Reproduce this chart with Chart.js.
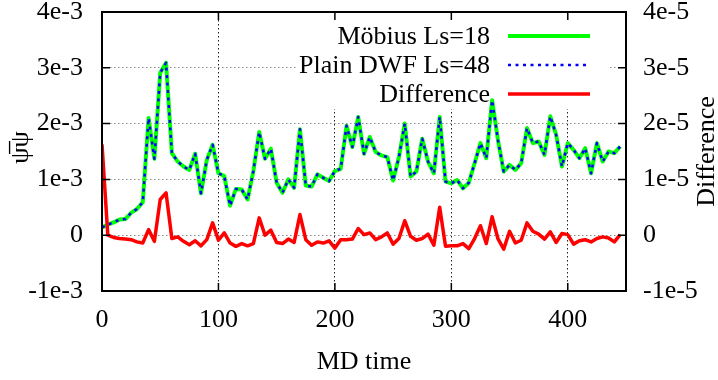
<!DOCTYPE html>
<html>
<head>
<meta charset="utf-8">
<script src="https://cdn.jsdelivr.net/npm/chart.js@4/dist/chart.umd.min.js"></script>
<style>
  html, body { margin: 0; padding: 0; background: #fff; }
  canvas { display: block; }
</style>
</head>
<body>
<canvas id="myChart" width="718" height="380"></canvas>
<script>
// MD time of each measurement
const mdTime = [
  0, 5, 10, 15, 20, 25, 30, 35, 40, 45, 50, 55, 60, 65, 70, 75, 80, 85, 90, 95,
  100, 105, 110, 115, 120, 125, 130, 135, 140, 145, 150, 155, 160, 165, 170, 175, 180, 185, 190, 195,
  200, 205, 210, 215, 220, 225, 230, 235, 240, 245, 250, 255, 260, 265, 270, 275, 280, 285, 290, 295,
  300, 305, 310, 315, 320, 325, 330, 335, 340, 345, 350, 355, 360, 365, 370, 375, 380, 385, 390, 395,
  400, 405, 410, 415, 420, 425, 430, 435, 440, 445
];

// psibar psi, units of 1e-3 (left axis)
const mobius = [
  0.14, 0.19, 0.23, 0.28, 0.29, 0.40, 0.47, 0.59, 2.10, 1.37, 2.91, 3.09, 1.47, 1.32, 1.23, 1.17, 1.46, 0.75, 1.35, 1.62,
  1.11, 1.06, 0.53, 0.83, 0.82, 0.64, 1.15, 1.85, 1.37, 1.55, 0.94, 0.76, 1.00, 0.85, 1.90, 0.89, 0.87, 1.09, 1.03, 0.97,
  1.15, 1.19, 1.96, 1.58, 2.12, 1.46, 1.76, 1.49, 1.43, 1.40, 0.98, 1.40, 2.00, 1.05, 1.14, 1.73, 1.32, 1.11, 2.12, 0.96,
  0.93, 0.99, 0.84, 0.94, 1.29, 1.65, 1.38, 2.42, 1.71, 1.14, 1.26, 1.17, 1.29, 1.92, 1.65, 1.68, 1.44, 2.13, 1.80, 1.23,
  1.65, 1.53, 1.38, 1.56, 1.11, 1.65, 1.32, 1.50, 1.47, 1.59
];
const plainDwf = [
  0.14, 0.19, 0.23, 0.28, 0.29, 0.40, 0.47, 0.59, 2.10, 1.37, 2.91, 3.09, 1.47, 1.32, 1.23, 1.17, 1.46, 0.75, 1.35, 1.62,
  1.11, 1.06, 0.53, 0.83, 0.82, 0.64, 1.15, 1.85, 1.37, 1.55, 0.94, 0.76, 1.00, 0.85, 1.90, 0.89, 0.87, 1.09, 1.03, 0.97,
  1.15, 1.19, 1.96, 1.58, 2.12, 1.46, 1.76, 1.49, 1.43, 1.40, 0.98, 1.40, 2.00, 1.05, 1.14, 1.73, 1.32, 1.11, 2.12, 0.96,
  0.93, 0.99, 0.84, 0.94, 1.29, 1.65, 1.38, 2.42, 1.71, 1.14, 1.26, 1.17, 1.29, 1.92, 1.65, 1.68, 1.44, 2.13, 1.80, 1.23,
  1.65, 1.53, 1.38, 1.56, 1.11, 1.65, 1.32, 1.50, 1.47, 1.59
];

// difference, units of 1e-5 (right axis)
const difference = [
  1.63, 0.00, -0.04, -0.06, -0.07, -0.08, -0.12, -0.14, 0.10, -0.11, 0.64, 0.76, -0.06, -0.03, -0.11, -0.17, -0.10, -0.19, -0.08, 0.22,
  -0.09, 0.04, -0.14, -0.20, -0.15, -0.19, -0.15, 0.31, 0.00, 0.09, -0.13, -0.15, -0.07, -0.13, 0.37, -0.08, -0.18, -0.12, -0.14, -0.10,
  -0.23, -0.08, -0.08, -0.07, 0.12, 0.01, 0.04, -0.08, -0.03, 0.04, -0.16, -0.06, 0.26, -0.02, -0.09, -0.06, 0.02, -0.18, 0.50, -0.20,
  -0.19, -0.19, -0.15, -0.24, -0.06, 0.17, -0.15, 0.33, -0.06, -0.25, 0.07, -0.14, -0.09, 0.22, 0.07, 0.02, -0.07, 0.06, -0.13, 0.03,
  0.01, -0.16, -0.10, -0.08, -0.12, -0.06, -0.03, -0.05, -0.12, 0.01
];

// tick labels
const xTicks = [0, 100, 200, 300, 400];
const yTicks = [-1, 0, 1, 2, 3, 4];
const yTickLabels = ['-1e-3', '0', '1e-3', '2e-3', '3e-3', '4e-3'];
const y2TickLabels = ['-1e-5', '0', '1e-5', '2e-5', '3e-5', '4e-5'];

const seriesNames = ['Möbius Ls=18', 'Plain DWF Ls=48', 'Difference'];

const FONT = "'Liberation Serif', 'Times New Roman', serif";
const FSIZE = 26;
const toPts = ys => mdTime.map((t, i) => ({ x: t, y: ys[i] }));

// gnuplot-like frame, inward ticks, opaque key and axis titles
const gnuplotLook = {
  id: 'gnuplotLook',
  beforeDatasetsDraw(chart) {
    const ctx = chart.ctx;
    ctx.save();
    ctx.fillStyle = '#fff';
    ctx.fillRect(296, 13, 312, 96);
    ctx.restore();
  },
  afterDatasetsDraw(chart) {
    const ctx = chart.ctx;
    const a = chart.chartArea;
    const sx = chart.scales.x, sy = chart.scales.y, sy2 = chart.scales.y2;
    ctx.save();
    // key
    ctx.font = FSIZE + 'px ' + FONT;
    ctx.textAlign = 'right';
    ctx.textBaseline = 'middle';
    ctx.fillStyle = '#000';
    const rows = [36, 65, 94];
    chart.data.datasets.forEach((ds, i) => {
      ctx.fillText(ds.label, 490, rows[i] + 1);
      ctx.beginPath();
      ctx.lineWidth = ds.borderWidth;
      ctx.strokeStyle = ds.borderColor;
      ctx.setLineDash(ds.borderDash || []);
      ctx.moveTo(508, rows[i]);
      ctx.lineTo(590, rows[i]);
      ctx.stroke();
    });
    ctx.setLineDash([]);
    // inward ticks
    ctx.strokeStyle = '#000';
    ctx.lineWidth = 1.5;
    ctx.beginPath();
    sx.ticks.forEach(t => {
      const p = sx.getPixelForValue(t.value);
      ctx.moveTo(p, a.bottom); ctx.lineTo(p, a.bottom - 8);
      ctx.moveTo(p, a.top); ctx.lineTo(p, a.top + 8);
    });
    sy.ticks.forEach(t => {
      const p = sy.getPixelForValue(t.value);
      ctx.moveTo(a.left, p); ctx.lineTo(a.left + 8, p);
    });
    sy2.ticks.forEach(t => {
      const p = sy2.getPixelForValue(t.value);
      ctx.moveTo(a.right, p); ctx.lineTo(a.right - 8, p);
    });
    ctx.stroke();
    // frame
    ctx.lineWidth = 2;
    ctx.strokeRect(a.left, a.top, a.right - a.left, a.bottom - a.top);
    ctx.restore();
  },
  afterDraw(chart) {
    const ctx = chart.ctx;
    const a = chart.chartArea;
    const midY = (a.top + a.bottom) / 2;
    ctx.save();
    ctx.fillStyle = '#000';
    ctx.font = FSIZE + 'px ' + FONT;
    ctx.textAlign = 'center';
    ctx.textBaseline = 'middle';
    ctx.fillText('MD time', (a.left + a.right) / 2, 362);
    ctx.translate(21, midY - 4);
    ctx.rotate(-Math.PI / 2);
    ctx.fillText('ψ\u0305ψ', 0, 0);
    ctx.restore();
    ctx.save();
    ctx.fillStyle = '#000';
    ctx.font = FSIZE + 'px ' + FONT;
    ctx.textAlign = 'center';
    ctx.textBaseline = 'middle';
    ctx.translate(707, midY);
    ctx.rotate(-Math.PI / 2);
    ctx.fillText('Difference', 0, 0);
    ctx.restore();
  }
};

const tickFont = { family: FONT, size: FSIZE };
const fitY = w => s => { s.width = w; s.paddingTop = 0; s.paddingBottom = 0; };

new Chart(document.getElementById('myChart'), {
  type: 'line',
  data: {
    datasets: [
      {
        label: seriesNames[0], data: toPts(mobius), yAxisID: 'y', order: 3,
        borderColor: '#00ff00', borderWidth: 4, borderJoinStyle: 'round', pointRadius: 0, tension: 0
      },
      {
        label: seriesNames[1], data: toPts(plainDwf), yAxisID: 'y', order: 2,
        borderColor: '#0000ff', borderWidth: 2.5, borderDash: [3, 4.5], borderJoinStyle: 'round', pointRadius: 0, tension: 0
      },
      {
        label: seriesNames[2], data: toPts(difference), yAxisID: 'y2', order: 1,
        borderColor: '#ff0000', borderWidth: 3.5, borderJoinStyle: 'round', pointRadius: 0, tension: 0
      }
    ]
  },
  options: {
    responsive: false,
    animation: false,
    devicePixelRatio: 1,
    layout: { padding: { top: 12, left: 0, right: 0, bottom: 0 } },
    plugins: { legend: { display: false }, tooltip: { enabled: false } },
    scales: {
      x: {
        type: 'linear', min: 0, max: 450,
        afterFit: s => { s.height = 89; s.paddingLeft = 0; s.paddingRight = 0; },
        afterBuildTicks: s => { s.ticks = xTicks.map(v => ({ value: v })); },
        ticks: { font: tickFont, color: '#000', padding: 14, maxRotation: 0, callback: v => String(v) },
        grid: { color: '#222', lineWidth: 1, drawTicks: false },
        border: { display: false, dash: [1.5, 2.5] }
      },
      y: {
        position: 'left', min: -1, max: 4,
        afterFit: fitY(102),
        afterBuildTicks: s => { s.ticks = yTicks.map(v => ({ value: v })); },
        ticks: { font: tickFont, color: '#000', padding: 19, callback: (v, i) => yTickLabels[i] },
        grid: { color: '#888', lineWidth: 1, drawTicks: false },
        border: { display: false, dash: [1.5, 2.5] }
      },
      y2: {
        position: 'right', min: -1, max: 4,
        afterFit: fitY(92),
        afterBuildTicks: s => { s.ticks = yTicks.map(v => ({ value: v })); },
        ticks: { font: tickFont, color: '#000', padding: 17, callback: (v, i) => y2TickLabels[i] },
        grid: { display: false, drawTicks: false },
        border: { display: false }
      }
    }
  },
  plugins: [gnuplotLook]
});
</script>
</body>
</html>
